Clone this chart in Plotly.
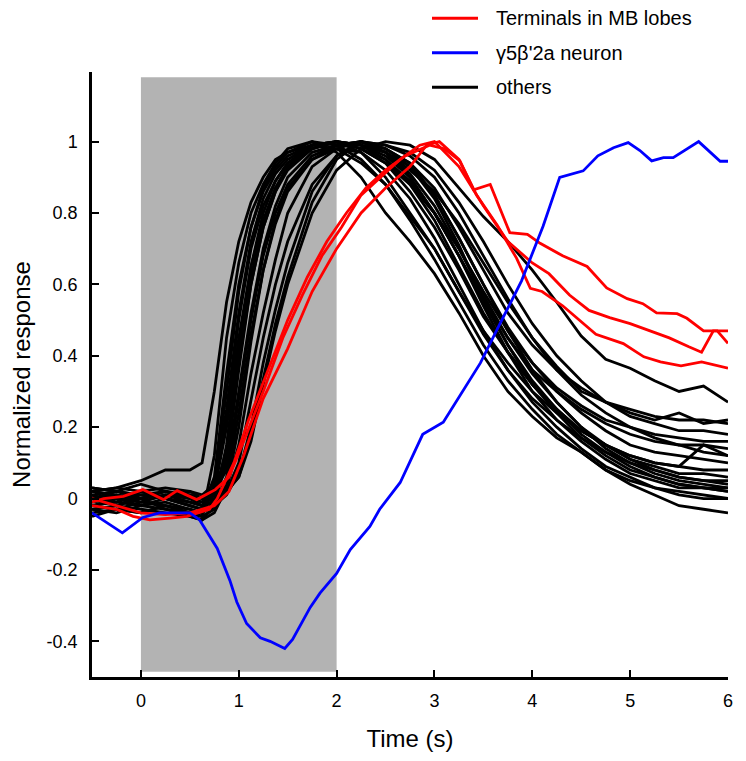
import plotly.graph_objects as go

# ---------------- data ----------------
t_black = [-0.5, -0.25, 0, 0.25, 0.5, 0.625, 0.75, 0.875, 1.0, 1.125, 1.25, 1.375, 1.5,
           1.75, 2.0, 2.25, 2.5, 2.75, 3.0, 3.25, 3.5, 3.75, 4.0, 4.25, 4.5, 4.75, 5.0,
           5.25, 5.5, 5.75, 6.0]

black_01 = [0.01, -0.02, 0.0, -0.03, -0.04, -0.05, 0.12, 0.45, 0.66, 0.8, 0.88, 0.94, 0.98,
            1.0, 0.97, 0.9, 0.8, 0.72, 0.63, 0.52, 0.4, 0.3, 0.23, 0.17, 0.13, 0.08, 0.04,
            0.01, -0.02, -0.03, -0.04]
black_02 = [0.03, 0.02, 0.01, 0.0, -0.02, -0.03, 0.06, 0.35, 0.6, 0.76, 0.86, 0.92, 0.96,
            0.99, 1.0, 0.97, 0.9, 0.8, 0.7, 0.58, 0.46, 0.36, 0.28, 0.22, 0.17, 0.13, 0.1,
            0.07, 0.05, 0.04, 0.03]
black_03 = [-0.02, 0.0, -0.01, 0.01, 0.0, -0.01, 0.03, 0.25, 0.52, 0.72, 0.84, 0.91, 0.95,
            0.99, 1.0, 0.99, 0.95, 0.88, 0.78, 0.65, 0.52, 0.41, 0.32, 0.25, 0.19, 0.15, 0.11,
            0.08, 0.06, 0.05, 0.04]
black_04 = [0.02, 0.03, 0.05, 0.08, 0.08, 0.1, 0.3, 0.55, 0.72, 0.83, 0.9, 0.95, 0.97,
            0.99, 1.0, 0.98, 0.95, 0.89, 0.8, 0.68, 0.56, 0.45, 0.36, 0.3, 0.25, 0.21, 0.18,
            0.16, 0.15, 0.13, 0.12]
black_05 = [-0.03, -0.04, -0.02, -0.03, -0.05, -0.06, -0.02, 0.15, 0.42, 0.65, 0.8, 0.89, 0.94,
            0.99, 1.0, 0.99, 0.96, 0.9, 0.8, 0.68, 0.55, 0.43, 0.33, 0.25, 0.18, 0.13, 0.09,
            0.06, 0.04, 0.03, 0.02]
black_06 = [0.0, 0.02, 0.01, 0.0, -0.01, -0.02, 0.02, 0.2, 0.45, 0.65, 0.78, 0.87, 0.93,
            0.98, 1.0, 0.98, 0.94, 0.88, 0.8, 0.7, 0.58, 0.47, 0.38, 0.31, 0.26, 0.22, 0.2,
            0.18, 0.17, 0.16, 0.16]
black_07 = [0.01, -0.01, 0.02, 0.0, -0.02, -0.03, 0.0, 0.12, 0.38, 0.6, 0.76, 0.86, 0.92,
            0.98, 1.0, 0.99, 0.97, 0.93, 0.85, 0.73, 0.6, 0.48, 0.38, 0.3, 0.24, 0.19, 0.15,
            0.13, 0.12, 0.11, 0.1]
black_08 = [-0.04, -0.03, -0.04, -0.02, -0.03, -0.04, -0.01, 0.1, 0.36, 0.6, 0.76, 0.86, 0.93,
            0.98, 1.0, 0.98, 0.94, 0.86, 0.76, 0.64, 0.51, 0.41, 0.32, 0.25, 0.19, 0.15, 0.11,
            0.09, 0.07, 0.07, 0.06]
black_09 = [0.02, 0.01, 0.0, 0.02, 0.01, 0.0, 0.02, 0.08, 0.3, 0.52, 0.7, 0.82, 0.9,
            0.97, 0.99, 1.0, 0.98, 0.94, 0.87, 0.76, 0.64, 0.52, 0.43, 0.36, 0.31, 0.27, 0.25,
            0.23, 0.22, 0.22, 0.21]
black_10 = [-0.01, 0.0, -0.02, -0.01, -0.03, -0.04, -0.02, 0.06, 0.28, 0.5, 0.68, 0.8, 0.88,
            0.96, 0.99, 1.0, 0.98, 0.93, 0.84, 0.71, 0.56, 0.43, 0.32, 0.24, 0.17, 0.12, 0.08,
            0.06, 0.04, 0.03, 0.03]
black_11 = [0.0, -0.01, 0.01, 0.02, 0.0, -0.01, 0.0, 0.03, 0.15, 0.35, 0.52, 0.67, 0.8,
            0.93, 0.98, 1.0, 0.99, 0.96, 0.9, 0.8, 0.68, 0.56, 0.45, 0.36, 0.29, 0.24, 0.2,
            0.17, 0.15, 0.15, 0.14]
black_12 = [-0.03, -0.02, -0.03, -0.04, -0.05, -0.06, -0.04, 0.03, 0.2, 0.44, 0.64, 0.78, 0.87,
            0.95, 0.98, 0.97, 0.92, 0.84, 0.73, 0.6, 0.47, 0.36, 0.27, 0.2, 0.14, 0.09, 0.06,
            0.03, 0.02, 0.01, 0.0]
black_13 = [0.01, 0.02, 0.0, 0.01, 0.02, 0.0, 0.01, 0.02, 0.1, 0.27, 0.45, 0.6, 0.72,
            0.88, 0.96, 1.0, 0.99, 0.97, 0.92, 0.83, 0.72, 0.6, 0.49, 0.4, 0.33, 0.27, 0.23,
            0.21, 0.19, 0.19, 0.18]
black_14 = [-0.02, -0.01, -0.02, 0.0, -0.02, -0.03, -0.02, 0.01, 0.07, 0.2, 0.38, 0.53, 0.66,
            0.86, 0.96, 1.0, 0.98, 0.94, 0.85, 0.73, 0.6, 0.47, 0.36, 0.27, 0.2, 0.14, 0.1,
            0.08, 0.06, 0.05, 0.05]
black_15 = [-0.01, 0.01, 0.0, 0.02, 0.01, 0.0, 0.01, 0.02, 0.06, 0.16, 0.32, 0.47, 0.6,
            0.8, 0.92, 0.98, 1.0, 0.99, 0.95, 0.87, 0.79, 0.72, 0.64, 0.55, 0.455, 0.39, 0.365,
            0.33, 0.3, 0.315, 0.27]
black_16 = [0.03, 0.02, 0.04, 0.02, 0.0, -0.02, -0.01, 0.02, 0.06, 0.18, 0.34, 0.49, 0.62,
            0.83, 0.95, 1.0, 0.97, 0.9, 0.8, 0.68, 0.54, 0.41, 0.3, 0.22, 0.16, 0.11, 0.07,
            0.05, 0.03, 0.03, 0.02]
black_17 = [-0.05, -0.03, -0.04, -0.02, -0.04, -0.05, 0.04, 0.3, 0.58, 0.76, 0.87, 0.93, 0.97,
            1.0, 0.99, 0.95, 0.88, 0.78, 0.67, 0.55, 0.43, 0.33, 0.25, 0.18, 0.13, 0.08, 0.05,
            0.03, 0.01, 0.0, 0.0]
black_18 = [0.02, 0.03, 0.02, 0.03, 0.02, 0.01, 0.04, 0.22, 0.5, 0.7, 0.82, 0.89, 0.94,
            0.98, 1.0, 0.99, 0.97, 0.92, 0.86, 0.77, 0.66, 0.55, 0.45, 0.37, 0.3, 0.27, 0.24,
            0.22, 0.24, 0.21, 0.22]
black_19 = [0.0, 0.01, -0.01, 0.01, -0.01, -0.02, 0.01, 0.14, 0.4, 0.62, 0.77, 0.87, 0.93,
            0.99, 0.98, 0.94, 0.88, 0.79, 0.7, 0.58, 0.47, 0.38, 0.3, 0.24, 0.19, 0.15, 0.12,
            0.1, 0.09, 0.08, 0.08]
black_20 = [-0.02, -0.03, -0.01, -0.02, -0.04, -0.05, -0.03, 0.04, 0.24, 0.46, 0.64, 0.77, 0.86,
            0.95, 0.99, 1.0, 0.97, 0.91, 0.82, 0.7, 0.57, 0.45, 0.35, 0.27, 0.2, 0.15, 0.12,
            0.1, 0.09, 0.15, 0.12]

black_series = [black_01, black_02, black_03, black_04, black_05, black_06, black_07,
                black_08, black_09, black_10, black_11, black_12, black_13, black_14,
                black_15, black_16, black_17, black_18, black_19, black_20]

t_red_u = [-0.5, -0.25, 0, 0.25, 0.5, 0.75, 0.9, 1.05, 1.25, 1.5, 1.75, 2.0, 2.25, 2.5, 2.75,
           2.92, 3.05, 3.25, 3.4, 3.57, 3.77, 3.95, 4.08, 4.31, 4.56, 4.76, 4.97, 5.13, 5.27,
           5.48, 5.58, 5.75, 5.89, 6.0]
red_u = [0.0, -0.02, -0.04, -0.045, -0.04, -0.02, 0.02, 0.12, 0.28, 0.42, 0.58, 0.7, 0.8, 0.87,
         0.93, 0.99, 1.0, 0.95, 0.865, 0.88, 0.745, 0.74, 0.715, 0.68, 0.65, 0.59, 0.56, 0.546,
         0.52, 0.518, 0.505, 0.47, 0.47, 0.435]

t_red_m = [-0.5, -0.38, -0.18, 0.02, 0.23, 0.37, 0.57, 0.76, 0.9, 1.05, 1.25, 1.45, 1.65, 1.85,
           2.05, 2.25, 2.45, 2.65, 2.85, 3.0, 3.25, 3.5, 3.75, 4.0, 4.17, 4.38, 4.58, 4.79,
           5.0, 5.17, 5.4, 5.6, 5.73, 5.85, 6.0]
red_m = [-0.01, 0.0, 0.006, 0.025, -0.003, 0.022, -0.003, 0.025, 0.06, 0.16, 0.3, 0.45, 0.57,
         0.68, 0.76, 0.85, 0.9, 0.95, 0.99, 1.0, 0.93, 0.82, 0.72, 0.66, 0.63, 0.57, 0.527,
         0.507, 0.49, 0.473, 0.45, 0.425, 0.41, 0.47, 0.47]

t_red_l = [-0.5, -0.25, -0.08, 0.09, 0.3, 0.47, 0.7, 0.78, 0.95, 1.1, 1.3, 1.5, 1.7, 1.9, 2.1,
           2.3, 2.5, 2.7, 2.95, 3.1, 3.26, 3.43, 3.64, 3.84, 3.98, 4.1, 4.31, 4.48, 4.65, 4.93,
           5.14, 5.31, 5.52, 5.73, 6.0]
red_l = [-0.02, -0.03, -0.05, -0.06, -0.055, -0.05, -0.03, 0.0, 0.1, 0.22, 0.36, 0.5, 0.62,
         0.72, 0.8, 0.87, 0.92, 0.96, 0.99, 0.98, 0.946, 0.85, 0.766, 0.673, 0.589, 0.58,
         0.54, 0.5, 0.46, 0.434, 0.397, 0.383, 0.372, 0.383, 0.365]

t_blue = [-0.5, -0.19, 0.02, 0.19, 0.5, 0.6, 0.78, 0.91, 0.98, 1.08, 1.22, 1.32, 1.47, 1.55,
          1.73, 1.83, 2.0, 2.14, 2.34, 2.44, 2.65, 2.88, 3.09, 3.26, 3.47, 3.67, 3.89, 4.11,
          4.28, 4.52, 4.67, 4.83, 4.98, 5.1, 5.22, 5.34, 5.44, 5.7, 5.92, 6.0]
blue = [-0.04, -0.096, -0.053, -0.04, -0.04, -0.06, -0.14, -0.23, -0.29, -0.35, -0.39, -0.40,
        -0.42, -0.395, -0.305, -0.265, -0.21, -0.143, -0.078, -0.03, 0.045, 0.18, 0.214, 0.287,
        0.38, 0.49, 0.61, 0.763, 0.9, 0.918, 0.96, 0.983, 0.997, 0.975, 0.946, 0.955, 0.955,
        1.0, 0.945, 0.945]

stim_window = [0, 2]
x_ticks = [0, 1, 2, 3, 4, 5, 6]
y_ticks = [-0.4, -0.2, 0, 0.2, 0.4, 0.6, 0.8, 1]
y_ticktext = ["-0.4", "-0.2", "0", "0.2", "0.4", "0.6", "0.8", "1"]
legend_labels = ["Terminals in MB lobes", "\u03b35\u03b2'2a neuron", "others"]
legend_colors = ["#ff0000", "#0000ff", "#000000"]

# ---------------- figure ----------------
# The page body has an 8px margin, so the figure is 8px smaller than the window.
FONT = "Liberation Sans, Arial, Helvetica, sans-serif"
LW = 2.8
fig = go.Figure()

for ys in black_series:
    fig.add_trace(go.Scatter(x=t_black, y=ys, mode="lines",
                             line=dict(color="#000000", width=LW), showlegend=False,
                             hoverinfo="skip"))
for tx, ys in [(t_red_u, red_u), (t_red_m, red_m), (t_red_l, red_l)]:
    fig.add_trace(go.Scatter(x=tx, y=ys, mode="lines",
                             line=dict(color="#ff0000", width=LW), showlegend=False,
                             hoverinfo="skip"))
fig.add_trace(go.Scatter(x=t_blue, y=blue, mode="lines",
                         line=dict(color="#0000ff", width=LW), showlegend=False,
                         hoverinfo="skip"))

shapes = [dict(type="rect", xref="x", yref="y", x0=stim_window[0], x1=stim_window[1],
               y0=-0.485, y1=1.18, fillcolor="#b3b3b3", line=dict(width=0), layer="below")]

# manual legend (paper coordinates, from page pixel positions)
W_PLOT = 636.0
H_PLOT = 605.0
annotations = []
leg_rows_px = [18.3, 52.7, 87.3]
for lab, col, py in zip(legend_labels, legend_colors, leg_rows_px):
    yp = (677 - py) / H_PLOT
    shapes.append(dict(type="line", xref="paper", yref="paper",
                       x0=(432 - 92) / W_PLOT, x1=(478 - 92) / W_PLOT, y0=yp, y1=yp,
                       line=dict(color=col, width=3)))
    annotations.append(dict(text=lab, xref="paper", yref="paper",
                            x=(494 - 92) / W_PLOT, y=yp, xanchor="left", yanchor="middle",
                            showarrow=False, font=dict(family=FONT, size=20, color="#000000")))

fig.update_layout(
    width=738, height=753,
    margin=dict(l=84, r=18, t=64, b=84, autoexpand=False),
    paper_bgcolor="white", plot_bgcolor="white",
    font=dict(family=FONT, color="#000000"),
    shapes=shapes, annotations=annotations,
    showlegend=False,
    xaxis=dict(range=[-0.5, 6], tickmode="array", tickvals=x_ticks,
               ticks="inside", ticklen=7, tickwidth=2, tickcolor="#000000",
               showline=True, linewidth=2.5, linecolor="#000000",
               showgrid=False, zeroline=False, ticklabelstandoff=6,
               tickfont=dict(family=FONT, size=18),
               title=dict(text="Time (s)", font=dict(family=FONT, size=24), standoff=20)),
    yaxis=dict(range=[-0.5, 1.195], tickmode="array", tickvals=y_ticks, ticktext=y_ticktext,
               ticks="inside", ticklen=7, tickwidth=2, tickcolor="#000000",
               showline=True, linewidth=2.5, linecolor="#000000",
               showgrid=False, zeroline=False, ticklabelstandoff=8,
               tickfont=dict(family=FONT, size=18),
               title=dict(text="Normalized response", font=dict(family=FONT, size=24),
                          standoff=12)),
)

fig.write_html("out.html")
